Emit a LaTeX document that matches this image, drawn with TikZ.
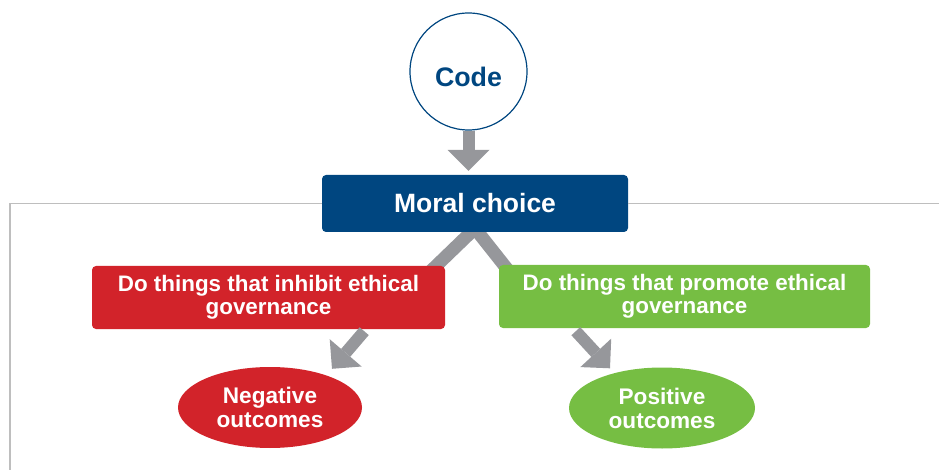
\documentclass[tikz,border=0pt]{standalone}
\usepackage{fontspec}
\setmainfont{Liberation Sans}
\usepackage{tikz}
\usetikzlibrary{arrows.meta}
\usetikzlibrary{backgrounds}
\usetikzlibrary{shapes.geometric}

\definecolor{codeblue}{RGB}{0,70,128}
\definecolor{inhibitred}{RGB}{210,35,42}
\definecolor{promotegreen}{RGB}{118,190,67}
\definecolor{arrowgray}{RGB}{150,151,155}
\definecolor{framegray}{RGB}{190,190,190}

\tikzset{
  choicebox/.style={rectangle, rounded corners=4pt, inner sep=0pt,
    text=white, align=center, font=\bfseries\fontsize{22.4}{23}\selectfont},
  outcome/.style={ellipse, inner sep=0pt, minimum height=81pt,
    text=white, align=center, font=\bfseries\fontsize{22.6}{24}\selectfont},
  fat/.style={color=arrowgray, line width=12pt,
    -{Triangle[length=21pt,width=42pt,line width=0pt]}},
  bar/.style={draw=arrowgray, line width=13pt},
  frame/.style={draw=framegray, line width=1.4pt}
}

\begin{document}
\begin{tikzpicture}[x=1pt,y=-1pt]
  \useasboundingbox (0,0) rectangle (939,470);

  \node[circle,draw=codeblue,line width=1.2pt,minimum size=117pt,inner sep=0pt,
        text=codeblue,text height=30pt,text depth=0pt,
        font=\bfseries\fontsize{26.8}{28}\selectfont]
    (Code) at (468.5,71.5) {Code};
  \node[choicebox,fill=codeblue,minimum width=306pt,minimum height=57pt,
        font=\bfseries\fontsize{26.5}{28}\selectfont]
    (Choice) at (475,203.5) {Moral choice};
  \node[choicebox,fill=inhibitred,minimum width=353pt,minimum height=63pt]
    (Inhibit) at (268.5,297.5) {Do things that inhibit ethical\\governance};
  \node[choicebox,fill=promotegreen,minimum width=371pt,minimum height=63pt]
    (Promote) at (684.5,296.5) {Do things that promote ethical\\governance};
  \node[outcome,fill=inhibitred,minimum width=184pt]
    (Negative) at (270,407.5) {Negative\\outcomes};
  \node[outcome,fill=promotegreen,minimum width=186pt]
    (Positive) at (662,408) {Positive\\outcomes};

  \coordinate (FrameLeft) at (10,470);
  \coordinate (FrameRight) at (939,203.5);
  \draw[frame] (Choice.west) -| (FrameLeft);
  \draw[frame] (Choice.east) -- (FrameRight);

  \path[fat]
    (Code.south) edge ([yshift=4pt]Code.south |- Choice.north)
    ([xshift=-81pt,yshift=-2pt]Inhibit.south east) edge ([xshift=62pt,yshift=-2pt]Negative.north)
    ([xshift=77pt,yshift=-3pt]Promote.south west) edge ([xshift=-52pt,yshift=-1pt]Positive.north);

  % bars sit under the boxes
  \begin{pgfonlayer}{background}
    \path[bar]
      ([xshift=-4pt]Choice.south) edge [shorten <=-10pt,shorten >=-10pt] ([xshift=-9pt]Inhibit.north east)
      ([xshift=3pt]Choice.south) edge [shorten <=-10pt,shorten >=-10pt] ([xshift=5pt]Promote.north west);
  \end{pgfonlayer}

\end{tikzpicture}
\end{document}
